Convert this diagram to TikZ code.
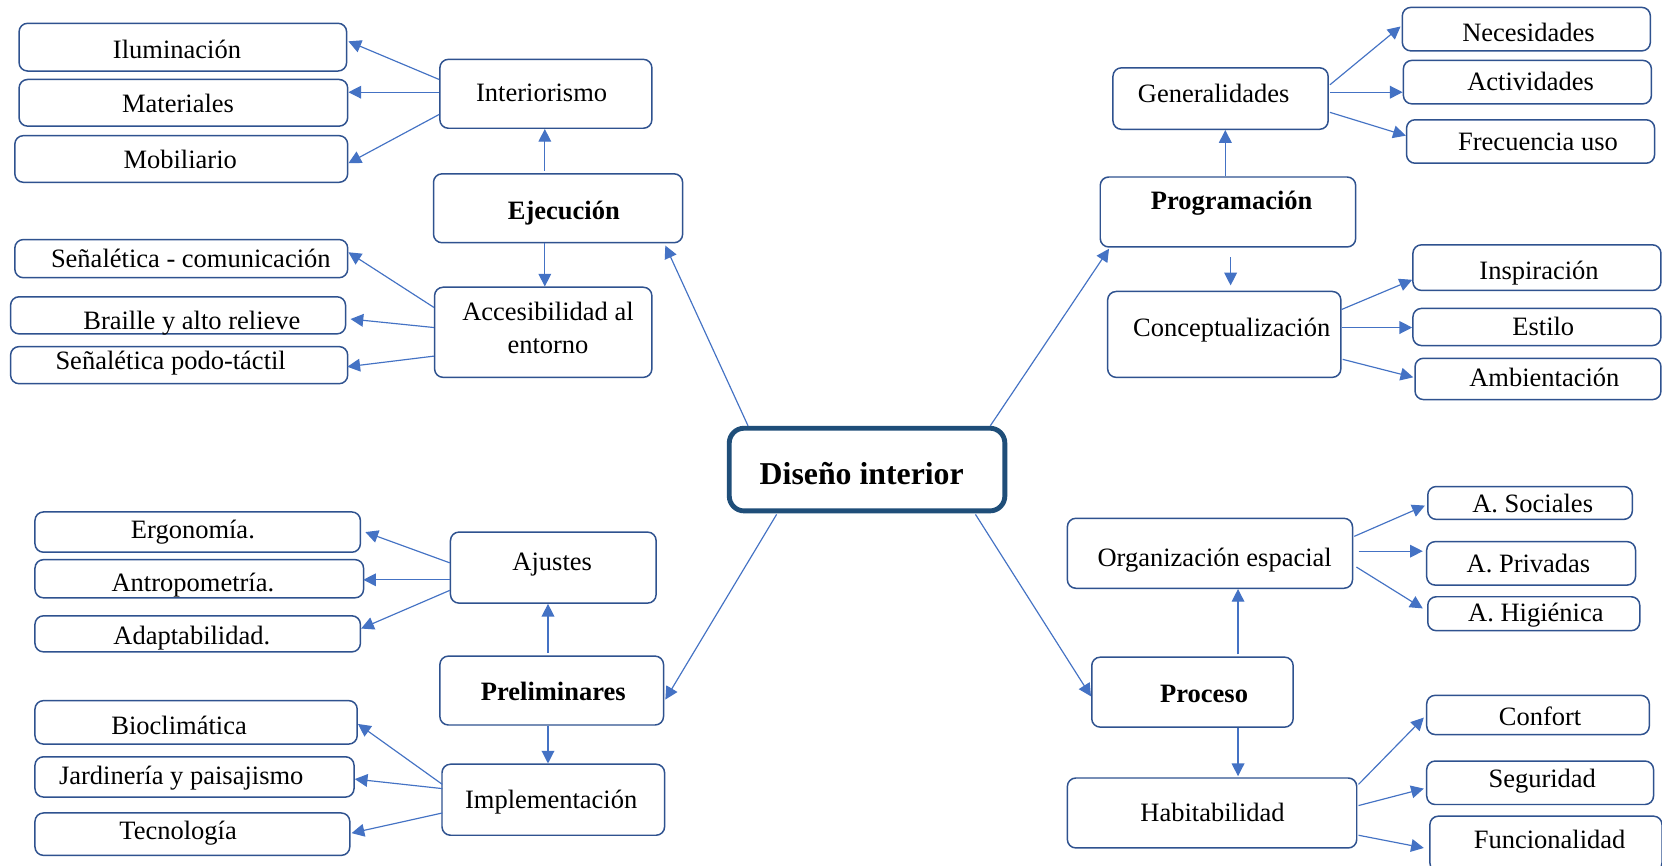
\documentclass[tikz,border=0pt]{standalone}
\usepackage{fontspec}
\setmainfont{Liberation Serif}
\usetikzlibrary{arrows.meta,calc}
\definecolor{boxc}{HTML}{2F528F}
\definecolor{arrc}{HTML}{4472C4}
\definecolor{cenc}{HTML}{1F4E79}
\tikzset{
  box/.style={draw=boxc, line width=0.7pt, rounded corners=4pt, inner sep=0pt, fill=white},
  conn/.style={draw=arrc, line width=0.55pt, -{Triangle[length=6pt,width=6pt]}},
  every label/.style={font=\fontsize{12.5}{14}\selectfont, inner sep=0pt, text=black}
}
\newcommand\mybox[8]{\node[box, minimum width={#4*0.5pt}, minimum height={#5*0.5pt}, label={[anchor=base, xshift={(#6-#2)*0.5pt}, yshift={(#3-#7)*0.5pt}]center:{#8}}] (#1) at (#2,#3) {};}
\begin{document}
\begin{tikzpicture}[x=0.5pt,y=-0.5pt]
\fill[white] (0,0) rectangle (1568,817);
\useasboundingbox (0,0) rectangle (1568,817);
% central
\node[draw=cenc, line width=2.3pt, rounded corners=7pt, fill=white, minimum width={260*0.5pt}, minimum height={78*0.5pt}, inner sep=0pt,
  label={[anchor=base, xshift={(813-818)*0.5pt}, yshift={(443-447)*0.5pt}, font=\fontsize{15}{17}\selectfont\bfseries]center:Diseño interior}] (cen) at (818,443) {};
% left top
\mybox{ilu}{172.5}{44.5}{309}{45}{167}{47}{Iluminación}
\mybox{mat}{173}{97}{310}{44}{168}{97.5}{Materiales}
\mybox{mob}{171}{150}{314}{44}{170}{150.5}{Mobiliario}
\mybox{int}{515}{88.5}{200}{65}{511}{88}{Interiorismo}
\mybox{eje}{526.5}{196.5}{235}{65}{532}{201}{\textbf{Ejecución}}
\node[box, minimum width={205*0.5pt}, minimum height={85*0.5pt},
  label={[anchor=base, xshift={(517-512.5)*0.5pt}, yshift={(313.5-294)*0.5pt}]center:Accesibilidad al},
  label={[anchor=base, xshift={(517-512.5)*0.5pt}, yshift={(313.5-327)*0.5pt}]center:entorno}] (acc) at (512.5,313.5) {};
\mybox{sen}{171}{244}{314}{36}{180}{243.5}{Señalética - comunicación}
\mybox{bra}{168}{297.5}{316}{35}{181}{304.5}{Braille y alto relieve}
\mybox{pod}{169}{344.5}{318}{35}{161}{343}{Señalética podo-táctil}
% right top
\mybox{gen}{1151.5}{93}{203}{58}{1145}{88}{Generalidades}
\mybox{nec}{1440}{27.5}{234}{41}{1442}{30.5}{Necesidades}
\mybox{act}{1441}{77.5}{234}{41}{1444}{77}{Actividades}
\mybox{fre}{1444}{133.5}{234}{41}{1451}{133.5}{Frecuencia uso}
\mybox{pro}{1158.5}{200}{241}{66}{1162}{191.5}{\textbf{Programación}}
\mybox{con}{1155}{315.5}{220}{81}{1162}{311}{Conceptualización}
\mybox{ins}{1450}{252.5}{234}{43}{1452}{257.5}{Inspiración}
\mybox{est}{1450}{308.5}{234}{35}{1456}{308}{Estilo}
\mybox{amb}{1451}{357.5}{232}{39}{1457}{356}{Ambientación}
% left bottom
\mybox{erg}{186.5}{502}{307}{38}{182}{502}{Ergonomía.}
\mybox{ant}{188}{546}{310}{36}{182}{552}{Antropometría.}
\mybox{ada}{186.5}{598}{307}{34}{181}{602}{Adaptabilidad.}
\mybox{aju}{522}{535.5}{194}{67}{521}{533}{Ajustes}
\mybox{pre}{520.5}{651.5}{211}{65}{522}{652}{\textbf{Preliminares}}
\mybox{imp}{522}{754.5}{210}{67}{520}{756.5}{Implementación}
\mybox{bio}{185}{681.5}{304}{41}{169}{684}{Bioclimática}
\mybox{jar}{183.5}{733}{301}{38}{171}{734.5}{Jardinería y paisajismo}
\mybox{tec}{181.5}{787}{297}{40}{168}{786}{Tecnología}
% right bottom
\mybox{org}{1141.5}{522}{269}{66}{1146}{528}{Organización espacial}
\mybox{soc}{1443.5}{474.5}{193}{31}{1446}{475}{A. Sociales}
\mybox{pri}{1444.5}{531.5}{197}{41}{1442}{531.5}{A. Privadas}
\mybox{hig}{1447}{579}{200}{32}{1449}{580.5}{A. Higiénica}
\mybox{prc}{1125}{653}{190}{66}{1136}{655}{\textbf{Proceso}}
\mybox{hab}{1143.5}{767}{273}{66}{1144}{766.5}{Habitabilidad}
\mybox{cnf}{1451}{674.5}{210}{37}{1453}{676}{Confort}
\mybox{seg}{1453}{738.5}{214}{41}{1455}{737}{Seguridad}
\mybox{fun}{1458.5}{796}{219}{52}{1462}{792}{Funcionalidad}
% connectors left top
\draw[conn] ($(int.west)+(0,-13.5)$) -- ($(ilu.east)+(1,-5.5)$);
\draw[conn] ($(int.west)+(0,-1.5)$) -- ($(mat.east)+(0,-10)$);
\draw[conn] ($(int.west)+(0,19.5)$) -- ($(mob.east)+(0,4)$);
\draw[conn] ($(eje.north)+(-12.5,-2)$) -- ($(int.south)+(-1,0)$);
\draw[conn] ($(eje.south)+(-12.5,0)$) -- ($(acc.north)+(1.5,0)$);
\draw[conn] ($(acc.west)+(0,-23.5)$) -- ($(sen.east)+(0,-6)$);
\draw[conn] ($(acc.west)+(0,-4.5)$) -- ($(bra.east)+(4,3.5)$);
\draw[conn] ($(acc.west)+(0,22.5)$) -- ($(pod.east)+(-1,1.5)$);
\draw[conn] ($(cen.north west)+(20,0)$) -- ($(eje.south east)+(-17,2)$);
% connectors right top
\draw[conn] ($(gen.east)+(1,-13)$) -- ($(nec.west)+(-1,-2.5)$);
\draw[conn] ($(gen.east)+(1,-6)$) -- ($(act.west)+(0,9.5)$);
\draw[conn] ($(gen.east)+(1,13)$) -- ($(fre.west)+(0,-5.5)$);
\draw[conn] ($(pro.north)+(-2.5,0)$) -- ($(gen.south)+(4.5,0)$);
\draw[conn] ($(pro.south)+(2.5,9)$) -- ($(con.north)+(6,-5)$);
\draw[conn] ($(con.east)+(0,-23.5)$) -- ($(ins.west)+(0,11.5)$);
\draw[conn] ($(con.east)+(0,-6.5)$) -- ($(est.west)+(0,0.5)$);
\draw[conn] ($(con.east)+(1,23.5)$) -- ($(amb.west)+(-1,-1.5)$);
\draw[conn] ($(cen.north east)+(-16,0)$) -- ($(pro.south west)+(9,1)$);
% connectors left bottom
\draw[conn] ($(aju.west)+(0,-4.5)$) -- ($(erg.east)+(4,0)$);
\draw[conn] ($(aju.west)+(0,11.5)$) -- ($(ant.east)+(-1,1)$);
\draw[conn] ($(aju.west)+(0,21.5)$) -- ($(ada.east)+(0,-5)$);
\draw[conn] ($(pre.north)+(-3.5,-2)$) -- ($(aju.south)+(-5,0)$);
\draw[conn] ($(pre.south)+(-3.5,0)$) -- ($(imp.north)+(-5,0)$);
\draw[conn] ($(imp.west)+(1,-14.5)$) -- ($(bio.east)+(0,1.5)$);
\draw[conn] ($(imp.west)+(1,-10.5)$) -- ($(jar.east)+(0,2)$);
\draw[conn] ($(imp.west)+(1,12.5)$) -- ($(tec.east)+(1,-1)$);
\draw[conn] ($(cen.south west)+(47,1)$) -- ($(pre.east)+(1,8.5)$);
% connectors right bottom
\draw[conn] ($(org.east)+(1,-16)$) -- ($(soc.west)+(-2,2.5)$);
\draw[conn] ($(org.east)+(5,-2)$) -- ($(pri.west)+(-3,-11.5)$);
\draw[conn] ($(org.east)+(3,13)$) -- ($(hig.west)+(-4,-5)$);
\draw[conn] ($(prc.north)+(43,-2)$) -- ($(org.south)+(26.5,0)$);
\draw[conn] ($(prc.south)+(43,0)$) -- ($(hab.north)+(24.5,-1)$);
\draw[conn] ($(hab.east)+(1,-27)$) -- ($(cnf.west)+(-2,2.5)$);
\draw[conn] ($(hab.east)+(1,-7)$) -- ($(seg.west)+(-2,5.5)$);
\draw[conn] ($(hab.east)+(1,21)$) -- ($(fun.west)+(-5,4)$);
\draw[conn] ($(cen.south east)+(-30,1)$) -- ($(prc.west)+(0,4)$);
\end{tikzpicture}
\end{document}
